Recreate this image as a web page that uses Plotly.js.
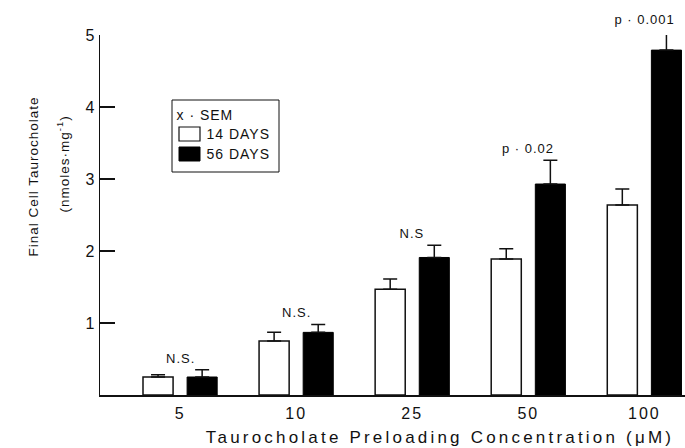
<!DOCTYPE html>
<html>
<head>
<meta charset="utf-8">
<script src="https://cdn.plot.ly/plotly-3.0.1.min.js"></script>
<style>
html,body{margin:0;padding:0;background:#fff;}
#chart{width:685px;height:448px;}
.main-svg text{letter-spacing:1px;}
.main-svg .xtick text{letter-spacing:2px;}
</style>
</head>
<body>
<div id="chart"></div>
<script>
// Data
const categories = ["5", "10", "25", "50", "100"];
const days14 = [0.25, 0.75, 1.47, 1.89, 2.64];
const days14Sem = [0.03, 0.12, 0.14, 0.14, 0.22];
const days56 = [0.25, 0.87, 1.91, 2.93, 4.79];
const days56Sem = [0.10, 0.11, 0.17, 0.33, 0.26];
const sigLabels = ["N.S.", "N.S.", "N.S", "p · 0.02", "p · 0.001"];
const sigY = [0.51, 1.15, 2.25, 3.43, 5.21];
const yTicks = [1, 2, 3, 4, 5];

// Layout geometry (pixels)
const W = 685, H = 448;
const L = 100, R = 0, T = 35, B = 53;
const pw = W - L - R, ph = H - T - B;
const yMax = 5;
const px = x => (x - L) / pw;
const py = y => (H - B - y) / ph;

const font = {family: "Liberation Sans, Arial, sans-serif", color: "#111"};
const f = s => Object.assign({}, font, {size: s});
const zeros = categories.map(() => 0);

const traces = [
  {
    type: "bar", name: "14 DAYS", x: categories, y: days14,
    marker: {color: "#fff", line: {color: "#111", width: 1.5}},
    error_y: {type: "data", symmetric: false, array: days14Sem, arrayminus: zeros,
              color: "#111", thickness: 1.5, width: 7},
    cliponaxis: false
  },
  {
    type: "bar", name: "56 DAYS", x: categories, y: days56,
    marker: {color: "#000", line: {color: "#000", width: 1}},
    error_y: {type: "data", symmetric: false, array: days56Sem, arrayminus: zeros,
              color: "#111", thickness: 1.5, width: 7},
    cliponaxis: false
  }
];

// significance labels: x in category index, y in paper units (value / axis max)
const annotations = categories.map((c, i) => ({
  x: i, y: sigY[i] / yMax, xref: "x", yref: "paper", text: sigLabels[i],
  xanchor: "center", yanchor: "middle",
  showarrow: false, font: f(13)
}));

// Y axis title (two lines, rotated)
annotations.push({
  xref: "paper", yref: "paper", x: px(33), y: py(177), xanchor: "center", yanchor: "middle",
  text: "Final Cell Taurocholate", textangle: -90, showarrow: false, font: f(13.5)
});
annotations.push({
  xref: "paper", yref: "paper", x: px(63), y: py(164), xanchor: "center", yanchor: "middle",
  text: "(nmoles·mg<sup>-1</sup>)", textangle: -90, showarrow: false, font: f(13.5)
});
// X axis title
annotations.push({
  xref: "paper", yref: "paper", x: px(440), y: py(437), xanchor: "center", yanchor: "middle",
  text: "Taurocholate Preloading Concentration (μM)", showarrow: false, font: f(17)
});

// Legend (drawn manually)
const legendItems = ["x · SEM", "14 DAYS", "56 DAYS"];
const legendY = [115, 134, 154];
const legendX = [178, 208, 208];
legendItems.forEach((t, i) => annotations.push({
  xref: "paper", yref: "paper", x: px(legendX[i]), y: py(legendY[i]),
  xanchor: "left", yanchor: "middle", text: t, showarrow: false, font: f(14)
}));

const shapes = [
  {type: "rect", xref: "paper", yref: "paper", x0: px(172), x1: px(279), y0: py(100), y1: py(172),
   line: {color: "#111", width: 1}, fillcolor: "rgba(0,0,0,0)"},
  {type: "rect", xref: "paper", yref: "paper", x0: px(179), x1: px(200), y0: py(127), y1: py(141),
   line: {color: "#111", width: 1.2}, fillcolor: "#fff"},
  {type: "rect", xref: "paper", yref: "paper", x0: px(179), x1: px(200), y0: py(147), y1: py(161),
   line: {color: "#000", width: 1}, fillcolor: "#000"}
];

const layout = {
  width: W, height: H,
  margin: {l: L, r: R, t: T, b: B, pad: 0},
  paper_bgcolor: "#fff", plot_bgcolor: "#fff",
  showlegend: false,
  barmode: "group", bargap: 0.24, bargroupgap: 0.318,
  font: font,
  xaxis: {
    type: "category", range: [-0.69, 4.35],
    showline: true, linecolor: "#111", linewidth: 1.5,
    ticks: "", showgrid: false, zeroline: false,
    tickfont: f(16), ticklabelstandoff: 3
  },
  yaxis: {
    range: [0, yMax], tickvals: yTicks, ticktext: yTicks.map(String),
    showline: true, linecolor: "#111", linewidth: 1.5,
    ticks: "inside", ticklen: 15, tickwidth: 1.5, tickcolor: "#111",
    showgrid: false, zeroline: false,
    tickfont: f(16)
  },
  annotations: annotations,
  shapes: shapes
};

Plotly.newPlot("chart", traces, layout, {staticPlot: true, displayModeBar: false}).then(() => {
  document.querySelectorAll(".annotation-text").forEach(el => {
    if (el.textContent.indexOf("Preloading") >= 0) el.style.letterSpacing = "3.2px";
  });
});
</script>
</body>
</html>
